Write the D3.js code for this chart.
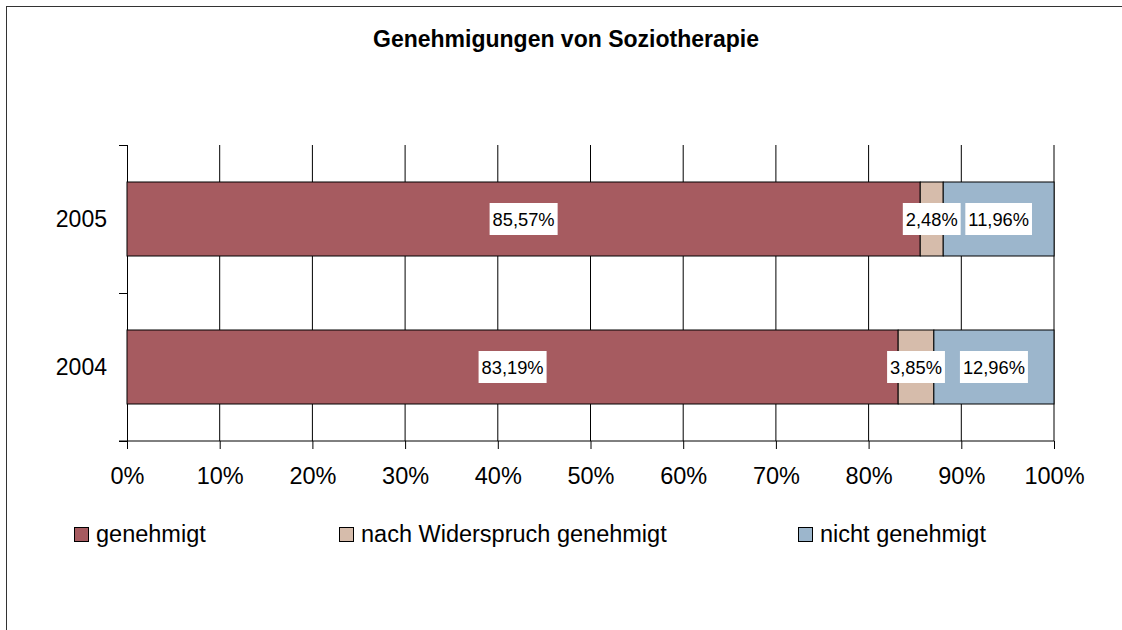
<!DOCTYPE html>
<html>
<head>
<meta charset="utf-8">
<script src="https://cdn.jsdelivr.net/npm/d3@7"></script>
<style>
  body { margin: 0; background: #fff; }
  text { font-family: Arial, "Liberation Sans", sans-serif; fill: #000; }
</style>
</head>
<body>
<div id="container"></div>
<script>
// <--------- data --------->
let years = ["2005", "2004"];
let seriesNames = ["genehmigt", "nach Widerspruch genehmigt", "nicht genehmigt"];
let genehmigt = [85.57, 83.19];
let nachWiderspruch = [2.48, 3.85];
let nichtGenehmigt = [11.96, 12.96];
let tickValues = [0, 10, 20, 30, 40, 50, 60, 70, 80, 90, 100];
let colors = ["#a65b60", "#d6bcab", "#9cb6cc"];

let width = 1122;
let height = 630;

let viz = d3.select("#container")
  .append("svg")
    .attr("width", width)
    .attr("height", height)
;

// outer frame (cut off at the right / bottom)
viz.append("rect")
  .attr("x", 6.5)
  .attr("y", 6.5)
  .attr("width", width + 20)
  .attr("height", height + 20)
  .attr("fill", "none")
  .attr("stroke", "#333")
;

viz.append("text")
  .attr("x", 566)
  .attr("y", 47)
  .attr("text-anchor", "middle")
  .style("font-size", "23px")
  .style("font-weight", "bold")
  .text("Genehmigungen von Soziotherapie")
;

// <--------- scales --------->
let x = d3.scaleLinear().domain([0, 100]).range([127, 1054]);
let y = d3.scaleBand().domain(years).range([145, 441]).paddingInner(0.5).paddingOuter(0.25);

// table for the stack
let table = years.map(function(yr, i){
  return {
    year: yr,
    "genehmigt": genehmigt[i],
    "nach Widerspruch genehmigt": nachWiderspruch[i],
    "nicht genehmigt": nichtGenehmigt[i]
  };
});
let stacked = d3.stack().keys(seriesNames)(table);

// gridlines
viz.append("g")
  .selectAll("line")
  .data(tickValues.slice(1))
  .enter()
  .append("line")
    .attr("x1", d => x(d))
    .attr("x2", d => x(d))
    .attr("y1", 145)
    .attr("y2", 441)
    .attr("stroke", "#000")
;

// bottom axis
let xAxis = d3.axisBottom(x)
  .tickValues(tickValues)
  .tickSize(8)
  .tickSizeOuter(0)
  .tickFormat(d => d + "%");

let gx = viz.append("g")
  .attr("transform", "translate(0,441)")
  .call(xAxis);
gx.select(".domain").remove();
gx.selectAll(".tick line").attr("stroke", "#000");
gx.selectAll(".tick text")
  .attr("y", 43)
  .attr("dy", 0)
  .style("font-size", "23.5px")
  .style("font-family", "Arial, 'Liberation Sans', sans-serif")
  .attr("fill", "#000");

viz.append("line")
  .attr("x1", x(0) - 8)
  .attr("x2", x(100))
  .attr("y1", 441)
  .attr("y2", 441)
  .attr("stroke", "#000")
;

// left category axis: ticks at band boundaries
let step = y.step();
let bounds = years.map(d => y(d) - step * 0.25).concat([y(years[years.length - 1]) + y.bandwidth() + step * 0.25]);

viz.append("line")
  .attr("x1", x(0) + 0.5)
  .attr("x2", x(0) + 0.5)
  .attr("y1", 145)
  .attr("y2", 441)
  .attr("stroke", "#000")
;

viz.append("g")
  .selectAll("line")
  .data(bounds)
  .enter()
  .append("line")
    .attr("x1", x(0) - 8)
    .attr("x2", x(0))
    .attr("y1", d => Math.round(d) + 0.5)
    .attr("y2", d => Math.round(d) + 0.5)
    .attr("stroke", "#000")
;

viz.append("g")
  .selectAll("text")
  .data(years)
  .enter()
  .append("text")
    .attr("x", 107)
    .attr("y", d => y(d) + y.bandwidth() / 2)
    .attr("dy", "0.36em")
    .attr("text-anchor", "end")
    .style("font-size", "23px")
    .text(d => d)
;

// <--------- bars --------->
let layers = viz.selectAll(".layer").data(stacked).enter()
  .append("g")
    .attr("class", "layer")
    .attr("fill", (d, i) => colors[i])
;

layers.selectAll("rect")
  .data(d => d)
  .enter()
  .append("rect")
    .attr("x", d => x(d[0]))
    .attr("y", d => y(d.data.year))
    .attr("width", d => x(d[1]) - x(d[0]))
    .attr("height", y.bandwidth())
    .attr("stroke", "#000")
    .attr("stroke-width", 1)
;

// data labels
function fmt(v){
  return v.toFixed(2).replace(".", ",") + "%";
}

let labels = viz.selectAll(".lbl").data(stacked.flatMap(s => s.map(d => ({d: d, key: s.key}))))
  .enter()
  .append("g")
    .attr("class", "lbl")
    .attr("transform", function(o){
      let cx = (x(o.d[0]) + x(o.d[1])) / 2;
      let cy = y(o.d.data.year) + y.bandwidth() / 2;
      return "translate(" + cx + "," + cy + ")";
    })
;

labels.append("rect").attr("fill", "#fff");
labels.append("text")
  .attr("text-anchor", "middle")
  .attr("dy", "0.36em")
  .style("font-size", "18.3px")
  .text(o => fmt(o.d.data[o.key]));

labels.each(function(){
  let g = d3.select(this);
  let bb = g.select("text").node().getBBox();
  g.select("rect")
    .attr("x", -bb.width / 2 - 3)
    .attr("y", -16)
    .attr("width", bb.width + 6)
    .attr("height", 32);
});

// <--------- legend --------->
let legendX = [74, 339, 798];
let legend = viz.selectAll(".legend").data(seriesNames).enter()
  .append("g")
    .attr("class", "legend")
    .attr("transform", (d, i) => "translate(" + legendX[i] + ",527)")
;

legend.append("rect")
  .attr("x", 0.5)
  .attr("y", 0.5)
  .attr("width", 14)
  .attr("height", 14)
  .attr("fill", (d, i) => colors[i])
  .attr("stroke", "#000")
;

legend.append("text")
  .attr("x", 22)
  .attr("y", 15)
  .style("font-size", "23.5px")
  .text(d => d)
;
</script>
</body>
</html>
